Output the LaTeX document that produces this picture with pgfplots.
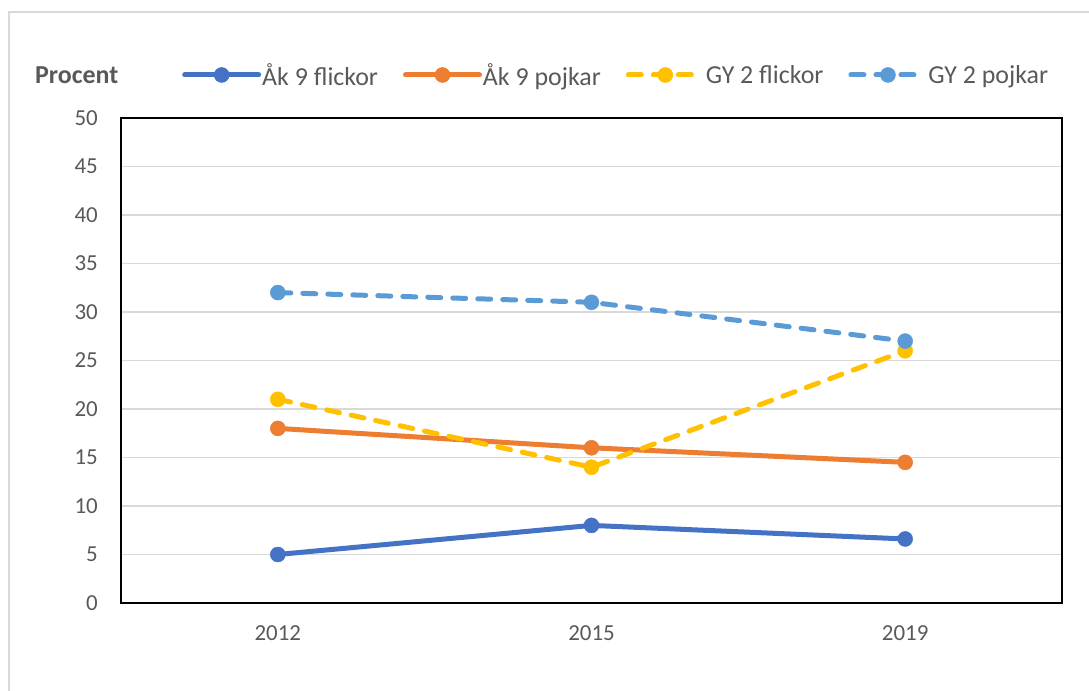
\documentclass[border=0pt]{standalone}
\usepackage{pgfplots}
\pgfplotsset{compat=1.18}
\usepackage{fontspec}
\setmainfont{Carlito}
\definecolor{c1}{HTML}{4472C4}
\definecolor{c2}{HTML}{ED7D31}
\definecolor{c3}{HTML}{FFC000}
\definecolor{c4}{HTML}{5B9BD5}
\definecolor{txt}{HTML}{595959}
\definecolor{gridc}{HTML}{D9D9D9}
\begin{document}
\begin{tikzpicture}
\useasboundingbox (0,0) rectangle (1089bp,691bp);
\draw[gridc,line width=1.5bp] (9bp,0) -- (9bp,679bp) -- (1089bp,679bp);
\node[anchor=west,text=txt,font=\fontsize{26}{30}\selectfont\bfseries,inner sep=0] at (35bp,616bp) {Procent};
\begin{axis}[
  at={(121bp,88bp)},anchor=south west,
  scale only axis,width=941bp,height=485bp,
  xmin=-0.5,xmax=2.5,ymin=0,ymax=50,
  xtick={0,1,2},xticklabels={2012,2015,2019},
  ytick={0,5,...,50},
  major tick length=0pt,
  axis line style={black,line width=2bp},
  ymajorgrids,grid style={gridc,line width=1.5bp},
  /pgf/number format/assume math mode=true,
  tick label style={text=txt,font=\fontsize{23}{27}\selectfont,inner sep=0pt},
  yticklabel style={anchor=east,xshift=-23bp},
  xticklabel style={anchor=north,yshift=-22bp},
  every axis plot/.append style={line width=5bp,mark=*,mark size=7.5bp,line cap=round},
  legend columns=4,
  legend style={at={(0.0648,1.0887)},anchor=west,draw=none,fill=none,inner sep=0pt,
    font=\fontsize{26}{30}\selectfont,text=txt,
    nodes={inner sep=1bp},
    /tikz/every even column/.append style={column sep=24bp}},
  legend image code/.code={\draw[#1,mark repeat=2,mark phase=2] plot coordinates {(0bp,0bp) (37bp,0bp) (74bp,0bp)};},
]
\addplot[c1,mark options={solid,fill=c1,line width=0.5bp}] coordinates {(0,5) (1,8) (2,6.6)};
\addplot[c2,mark options={solid,fill=c2,line width=0.5bp}] coordinates {(0,18) (1,16) (2,14.5)};
\addplot[c3,dash pattern=on 13bp off 12bp,mark options={solid,fill=c3,line width=0.5bp}] coordinates {(0,21) (1,14) (2,26)};
\addplot[c4,dash pattern=on 13bp off 12bp,mark options={solid,fill=c4,line width=0.5bp}] coordinates {(0,32) (1,31) (2,27)};
\legend{Åk 9 flickor,Åk 9 pojkar,GY 2 flickor,GY 2 pojkar}
\end{axis}
\end{tikzpicture}
\end{document}
